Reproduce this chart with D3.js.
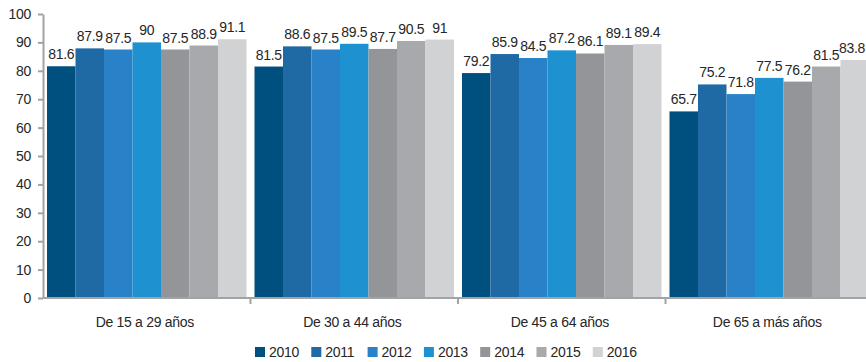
<!DOCTYPE html>
<html>
<head>
<meta charset="utf-8">
<script src="https://cdn.jsdelivr.net/npm/d3@7"></script>
<style>
  html, body { margin: 0; padding: 0; background: #fff; }
  svg { display: block; font-family: "Liberation Sans", Arial, sans-serif; }
  text { fill: #262626; }
</style>
</head>
<body>
<svg id="chart" width="866" height="362"></svg>
<script>
const categories = ["De 15 a 29 años", "De 30 a 44 años", "De 45 a 64 años", "De 65 a más años"];
const years = ["2010", "2011", "2012", "2013", "2014", "2015", "2016"];
const values2010 = [81.6, 81.5, 79.2, 65.7];
const values2011 = [87.9, 88.6, 85.9, 75.2];
const values2012 = [87.5, 87.5, 84.5, 71.8];
const values2013 = [90, 89.5, 87.2, 77.5];
const values2014 = [87.5, 87.7, 86.1, 76.2];
const values2015 = [88.9, 90.5, 89.1, 81.5];
const values2016 = [91.1, 91, 89.4, 83.8];
const yTicks = [0, 10, 20, 30, 40, 50, 60, 70, 80, 90, 100];
const colors = ["#00507f", "#1f6aa4", "#2982c8", "#1e92d1", "#939598", "#a8a9ac", "#d1d2d4"];

const seriesValues = [values2010, values2011, values2012, values2013, values2014, values2015, values2016];

const width = 866;
const svg = d3.select("#chart");
const plotLeft = 43, plotRight = 873, plotTop = 14, plotBottom = 298;

const x0 = d3.scaleBand().domain(categories).range([plotLeft, plotRight]).paddingInner(0).paddingOuter(0);
const x1 = d3.scaleBand().domain(years).range([4, x0.bandwidth() - 4]).padding(0);
const y = d3.scaleLinear().domain([0, 100]).range([plotBottom, plotTop]);
const color = d3.scaleOrdinal().domain(years).range(colors);

// Bars
const groups = svg.append("g").selectAll("g")
  .data(categories)
  .join("g")
  .attr("transform", d => `translate(${x0(d)},0)`);

groups.selectAll("rect")
  .data((c, ci) => years.map((yr, si) => ({ yr, v: seriesValues[si][ci] })))
  .join("rect")
  .attr("x", d => x1(d.yr))
  .attr("y", d => y(d.v))
  .attr("width", x1.bandwidth())
  .attr("height", d => y(0) - y(d.v))
  .attr("fill", d => color(d.yr));

// Value labels (kept inside the drawing area at the right edge)
groups.each(function (c, ci) {
  const g = d3.select(this);
  const offset = x0(c);
  g.selectAll("text.val")
    .data(years.map((yr, si) => ({ yr, v: seriesValues[si][ci] })))
    .join("text")
    .attr("class", "val")
    .attr("x", d => x1(d.yr) + x1.bandwidth() / 2)
    .attr("y", d => y(d.v) - 7)
    .attr("text-anchor", "middle")
    .attr("font-size", 14)
    .attr("letter-spacing", -0.3)
    .text(d => d.v)
    .each(function (d) {
      const w = this.getComputedTextLength();
      const cx = offset + x1(d.yr) + x1.bandwidth() / 2;
      if (cx + w / 2 > width - 1) {
        d3.select(this).attr("x", width - 1 - w / 2 - offset);
      }
    });
});

// Y axis
const yAxis = svg.append("g")
  .attr("transform", `translate(${plotLeft},0)`)
  .call(d3.axisLeft(y).tickValues(yTicks).tickSize(5).tickPadding(7).tickSizeOuter(0));
yAxis.select(".domain").attr("stroke", "#a3a3a3").attr("stroke-width", 2);
yAxis.selectAll(".tick line").attr("stroke", "#a3a3a3").attr("stroke-width", 2);
yAxis.selectAll(".tick text")
  .attr("font-size", 14)
  .attr("letter-spacing", -0.3)
  .attr("fill", "#262626")
  .attr("font-family", "Liberation Sans, Arial, sans-serif");

// X axis with category boundary ticks
const xAxis = svg.append("g").attr("transform", `translate(0,${plotBottom})`);
xAxis.append("line")
  .attr("x1", plotLeft).attr("x2", plotRight)
  .attr("stroke", "#a3a3a3").attr("stroke-width", 2);
xAxis.selectAll("line.sep")
  .data(categories.slice(1))
  .join("line")
  .attr("class", "sep")
  .attr("x1", d => x0(d)).attr("x2", d => x0(d))
  .attr("y1", 0).attr("y2", 6)
  .attr("stroke", "#a3a3a3").attr("stroke-width", 2);
xAxis.selectAll("text")
  .data(categories)
  .join("text")
  .attr("x", d => x0(d) + x0.bandwidth() / 2 - 2)
  .attr("y", 29)
  .attr("text-anchor", "middle")
  .attr("font-size", 14)
  .attr("letter-spacing", -0.3)
  .text(d => d);

// Legend
const legend = svg.append("g").attr("transform", "translate(255,347)");
const item = legend.selectAll("g")
  .data(years)
  .join("g")
  .attr("transform", (d, i) => `translate(${i * 56.3},0)`);
item.append("rect")
  .attr("width", 10).attr("height", 10)
  .attr("fill", d => color(d));
item.append("text")
  .attr("x", 14)
  .attr("y", 10)
  .attr("font-size", 14)
  .attr("letter-spacing", -0.3)
  .text(d => d);
</script>
</body>
</html>
